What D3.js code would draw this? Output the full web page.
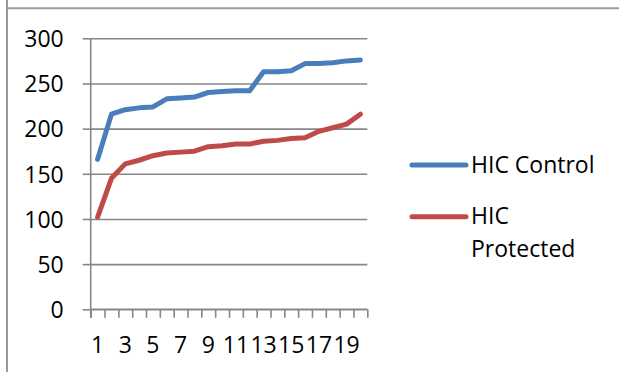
<!DOCTYPE html>
<html>
<head>
<meta charset="utf-8">
<script src="https://cdn.jsdelivr.net/npm/d3@7"></script>
<style>
  html, body { margin: 0; padding: 0; background: #fff; }
  svg { display: block; }
  text { font-family: "Open Sans", "Liberation Sans", sans-serif; fill: #000; }
</style>
</head>
<body>
<svg id="chart" width="619" height="372"></svg>
<script>
// Sample index along the x axis
const categories = d3.range(1, 21);
// Which category numbers get a label under the axis
const xTickLabels = [1, 3, 5, 7, 9, 11, 13, 15, 17, 19];
const yTickValues = [0, 50, 100, 150, 200, 250, 300];

const seriesNames = ["HIC Control", "HIC Protected"];
const hicControl   = [166, 216, 221, 223, 224, 233, 234, 235, 240, 241, 242, 242, 263, 263, 264, 272, 272, 273, 275, 276];
const hicProtected = [102, 145, 161, 165, 170, 173, 174, 175, 180, 181, 183, 183, 186, 187, 189, 190, 197, 201, 205, 216];
const seriesColors = ["#4A7EBB", "#BE4B48"];

const svg = d3.select("#chart");

// frame edges
svg.append("line").attr("x1", 7).attr("x2", 7).attr("y1", 0).attr("y2", 372)
  .attr("stroke", "#9a9a9a").attr("stroke-width", 2);
svg.append("line").attr("x1", 7).attr("x2", 619).attr("y1", 8.3).attr("y2", 8.3)
  .attr("stroke", "#9a9a9a").attr("stroke-width", 2);

const plot = { left: 90.7, right: 367.3, top: 38.3, bottom: 309.3 };

const x = d3.scaleBand().domain(categories).range([plot.left, plot.right]).padding(0);
const xEdge = d3.scaleLinear().domain([0, categories.length]).range([plot.left, plot.right]);
const y = d3.scaleLinear().domain([0, 300]).range([plot.bottom, plot.top]);

const gridColor = "#878787";

// horizontal gridlines with outward ticks on the left
const yAxis = d3.axisLeft(y).tickValues(yTickValues).tickSize(8).tickFormat(d => d);
const gy = svg.append("g").attr("transform", `translate(${plot.left},0)`).call(yAxis);
gy.select(".domain").remove();
gy.selectAll(".tick line").attr("stroke", gridColor).attr("stroke-width", 1.6);
gy.selectAll(".tick text").attr("x", -27).attr("dy", "0.36em")
  .style("font-size", "23px").attr("fill", "#000");
gy.selectAll(".tick").append("line")
  .attr("x1", 0).attr("x2", plot.right - plot.left)
  .attr("stroke", gridColor).attr("stroke-width", 1.6);

// vertical axis line
svg.append("line").attr("x1", plot.left).attr("x2", plot.left)
  .attr("y1", plot.top).attr("y2", plot.bottom + 8.5)
  .attr("stroke", gridColor).attr("stroke-width", 1.6);

// x axis: ticks at category boundaries
const xAxis = d3.axisBottom(xEdge).tickValues(d3.range(0, categories.length + 1)).tickSize(8.5).tickFormat("");
const gx = svg.append("g").attr("transform", `translate(0,${plot.bottom})`).call(xAxis);
gx.select(".domain").attr("stroke", gridColor).attr("stroke-width", 1.6).attr("d", `M${plot.left},0H${plot.right}`);
gx.selectAll(".tick line").attr("stroke", gridColor).attr("stroke-width", 1.6);

// category labels
svg.append("g").selectAll("text").data(xTickLabels).join("text")
  .attr("x", d => x(d) + x.bandwidth() / 2)
  .attr("y", 353)
  .attr("text-anchor", "middle")
  .style("font-size", "23px")
  .text(d => d);

// series lines
const line = d3.line()
  .x((d, i) => x(categories[i]) + x.bandwidth() / 2)
  .y(d => y(d));

[hicControl, hicProtected].forEach((vals, k) => {
  svg.append("path").datum(vals)
    .attr("d", line)
    .attr("fill", "none")
    .attr("stroke", seriesColors[k])
    .attr("stroke-width", 5)
    .attr("stroke-linejoin", "round")
    .attr("stroke-linecap", "round");
});

// legend
const legendRows = [
  { y: 165, lines: ["HIC Control"] },
  { y: 216.7, lines: ["HIC", "Protected"] }
];
legendRows.forEach((row, k) => {
  svg.append("line").attr("x1", 412).attr("x2", 466).attr("y1", row.y).attr("y2", row.y)
    .attr("stroke", seriesColors[k]).attr("stroke-width", 5).attr("stroke-linecap", "round");
  const t = svg.append("text").attr("x", 471).attr("y", row.y + 7.5).style("font-size", "23px");
  row.lines.forEach((s, j) => {
    t.append("tspan").attr("x", 471).attr("dy", j === 0 ? 0 : 32.7).text(s);
  });
});
</script>
</body>
</html>
